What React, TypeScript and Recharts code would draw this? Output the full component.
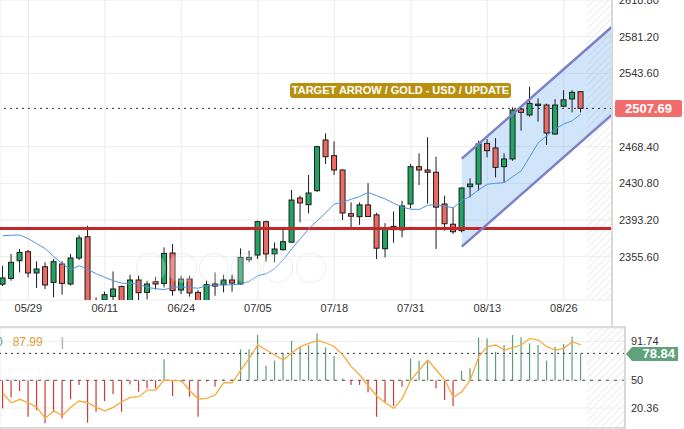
import React from "react";
import {
  ComposedChart,
  Bar,
  Line,
  Area,
  XAxis,
  YAxis,
  CartesianGrid,
  ReferenceLine,
  ReferenceArea,
} from "recharts";

// daily XAU/USD, 2024
const dates = [
  "05/24", "05/27", "05/28", "05/29", "05/30", "05/31",
  "06/03", "06/04", "06/05", "06/06", "06/07", "06/10", "06/11", "06/12", "06/13", "06/14",
  "06/17", "06/18", "06/19", "06/20", "06/21", "06/24", "06/25", "06/26", "06/27", "06/28",
  "07/01", "07/02", "07/03", "07/04", "07/05", "07/08", "07/09", "07/10", "07/11", "07/12",
  "07/15", "07/16", "07/17", "07/18", "07/19", "07/22", "07/23", "07/24", "07/25", "07/26",
  "07/29", "07/30", "07/31", "08/01", "08/02", "08/05", "08/06", "08/07", "08/08", "08/09",
  "08/12", "08/13", "08/14", "08/15", "08/16", "08/19", "08/20", "08/21", "08/22", "08/23",
  "08/26", "08/27", "08/28",
];

const opens = [
  2327.4, 2333.3, 2351.5, 2360.7, 2338.9, 2345.3, 2329.2, 2348.1, 2327.6, 2354.3,
  2376.1, 2293.5, 2311.2, 2314.9, 2325.1, 2303.5, 2331.7, 2319.0, 2330.0, 2328.2,
  2359.4, 2321.4, 2332.7, 2319.0, 2298.5, 2327.6, 2326.9, 2331.7, 2327.6, 2352.5,
  2357.3, 2391.5, 2358.4, 2362.8, 2370.5, 2415.8, 2408.9, 2423.3, 2475.3, 2459.2,
  2444.5, 2399.7, 2396.6, 2408.7, 2398.5, 2363.8, 2386.7, 2383.1, 2409.6, 2447.9,
  2444.5, 2442.2, 2409.6, 2388.9, 2382.3, 2427.4, 2430.1, 2471.8, 2467.1, 2447.9,
  2455.8, 2507.0, 2500.9, 2510.6, 2511.1, 2481.4, 2509.9, 2517.3, 2524.8,
];
const highs = [
  2346.4, 2358.4, 2363.5, 2362.5, 2350.8, 2349.8, 2353.2, 2350.8, 2358.4, 2377.8,
  2387.4, 2313.9, 2319.7, 2340.5, 2325.9, 2337.1, 2336.1, 2331.0, 2335.0, 2365.1,
  2368.6, 2336.1, 2336.1, 2321.4, 2331.0, 2339.5, 2337.1, 2337.1, 2364.1, 2361.8,
  2392.5, 2392.5, 2370.3, 2385.6, 2424.0, 2418.1, 2439.4, 2469.4, 2482.0, 2473.8,
  2445.0, 2411.3, 2411.3, 2431.0, 2400.7, 2390.0, 2402.0, 2413.0, 2450.6, 2461.5,
  2478.0, 2458.1, 2418.1, 2406.2, 2426.7, 2435.9, 2474.6, 2476.3, 2477.3, 2461.5,
  2508.7, 2508.1, 2529.9, 2517.9, 2512.5, 2517.1, 2526.3, 2526.3, 2525.3,
];
const lows = [
  2325.3, 2331.0, 2339.5, 2334.4, 2323.5, 2322.5, 2313.9, 2316.6, 2325.9, 2352.2,
  2286.0, 2286.5, 2298.0, 2305.0, 2300.0, 2300.5, 2310.0, 2312.0, 2322.0, 2324.1,
  2315.6, 2317.3, 2314.6, 2293.0, 2295.0, 2315.6, 2319.0, 2319.7, 2326.9, 2349.8,
  2353.2, 2350.5, 2349.8, 2361.8, 2370.3, 2390.8, 2400.0, 2422.0, 2450.6, 2439.4,
  2393.2, 2383.0, 2388.2, 2396.3, 2353.2, 2354.9, 2370.0, 2375.4, 2405.3, 2429.1,
  2410.0, 2363.5, 2382.3, 2378.9, 2380.5, 2416.4, 2423.3, 2457.4, 2436.9, 2431.8,
  2454.0, 2484.8, 2499.2, 2494.0, 2470.1, 2480.7, 2508.9, 2503.6, 2503.6,
];
const closes = [
  2333.8, 2349.8, 2360.0, 2338.9, 2343.0, 2326.6, 2350.5, 2328.2, 2354.3, 2374.8,
  2293.5, 2310.0, 2316.6, 2322.5, 2303.5, 2331.7, 2318.7, 2327.6, 2327.6, 2359.0,
  2320.8, 2332.7, 2318.4, 2298.5, 2326.9, 2325.5, 2331.7, 2328.6, 2354.9, 2354.9,
  2391.5, 2358.4, 2363.5, 2371.0, 2413.7, 2410.7, 2420.9, 2468.4, 2458.1, 2444.5,
  2400.4, 2397.1, 2408.7, 2396.8, 2364.3, 2383.8, 2383.3, 2407.6, 2447.9, 2444.5,
  2442.2, 2406.4, 2389.4, 2381.2, 2426.0, 2430.1, 2471.2, 2464.3, 2447.2, 2455.8,
  2506.0, 2503.6, 2512.8, 2512.0, 2482.4, 2511.1, 2516.4, 2524.1, 2507.69,
];
const movingAvg = [
  2377.1, 2377.6, 2377.8, 2374.0, 2368.9, 2363.8, 2355.6, 2348.4, 2342.3, 2346.4,
  2342.3, 2338.2, 2334.4, 2331.0, 2328.4, 2328.2, 2327.4, 2324.1, 2322.8, 2321.8,
  2324.3, 2324.8, 2323.8, 2323.3, 2325.9, 2326.6, 2326.7, 2326.9, 2327.6, 2330.5,
  2336.1, 2338.2, 2343.3, 2352.5, 2363.8, 2374.0, 2384.3, 2392.5, 2400.7, 2409.6,
  2411.3, 2414.5, 2417.4, 2421.5, 2418.1, 2414.8, 2410.4, 2406.4, 2404.3, 2404.1,
  2408.4, 2408.9, 2407.4, 2405.8, 2413.0, 2417.6, 2424.3, 2429.9, 2430.9, 2431.5,
  2437.6, 2443.8, 2458.1, 2472.5, 2479.7, 2486.5, 2491.7, 2495.0, 2501.9,
];

// oscillator pane
const oscValues = [
  20.0, 31.8, 38.5, 11.0, 18.2, 4.0, 15.8, 9.3, 29.7, 45.0,
  4.6, 16.4, 27.8, 35.3, 16.4, 45.7, 37.8, 41.4, 41.4, 72.5,
  33.2, 48.0, 32.5, 11.0, 48.5, 43.2, 51.0, 51.0, 83.2, 83.2,
  98.5, 65.6, 71.0, 79.5, 92.4, 86.0, 87.8, 100.3, 85.3, 76.0,
  52.0, 45.0, 45.0, 37.2, 11.0, 26.0, 22.5, 43.2, 73.5, 71.0,
  71.7, 41.4, 28.9, 22.5, 60.0, 62.8, 96.0, 95.0, 80.6, 87.8,
  98.5, 96.0, 89.6, 87.8, 71.0, 86.0, 88.8, 96.7, 78.84,
];
const signalValues = [
  36.1, 26.0, 29.7, 26.0, 21.1, 9.3, 17.4, 12.1, 21.1, 27.8,
  26.0, 21.1, 17.4, 21.1, 27.1, 31.8, 32.5, 39.6, 39.6, 50.3,
  49.6, 49.6, 38.9, 30.0, 30.7, 34.3, 47.4, 47.4, 61.0, 73.5,
  87.8, 82.4, 77.1, 71.7, 79.5, 86.0, 89.6, 92.4, 90.2, 86.0,
  77.1, 64.6, 55.7, 43.9, 33.2, 26.0, 20.0, 30.7, 50.3, 61.0,
  71.7, 61.0, 50.3, 31.8, 37.8, 50.3, 75.3, 86.0, 87.8, 82.4,
  84.9, 87.8, 94.9, 93.1, 86.0, 82.4, 84.2, 91.3, 87.99,
];

const dateTicks = [3, 12, 21, 30, 39, 48, 57, 66];
const priceTicks = [2355.6, 2393.2, 2430.8, 2468.4, 2543.6, 2581.2, 2618.8];
const oscTicks = [20.36, 50, 91.74];

// drawn objects
const channelX = [54, 71.67];
const channelUpper = [2456.1, 2591.4];
const channelLower = [2365.9, 2501.2];
const supportLevel = 2384.6;
const lastPrice = 2507.69;
const lastOsc = 78.84;
const lastSignal = 87.99;

const GREEN = "#22a563";
const RED = "#ef6a62";
const HIST_UP = "#5f9c78";
const HIST_DOWN = "#cf3a3a";

const priceRows = dates.map((_, i) => ({
  i,
  o: opens[i],
  h: highs[i],
  l: lows[i],
  c: closes[i],
  ma: movingAvg[i],
}));

const channelRows = channelX.map((x, k) => ({
  i: x,
  hi: channelUpper[k],
  lo: channelLower[k],
  band: [channelLower[k], channelUpper[k]],
}));

const oscRows = dates.map((_, i) => ({ i, hv: oscValues[i], sig: signalValues[i] }));

function Candle(props: any) {
  const { x, y, width, height, payload } = props;
  if (!payload || payload.o == null) return null;
  const { o, h, l, c } = payload;
  const top = Math.min(y, y + height);
  const span = Math.abs(height);
  const k = h === l ? 0 : span / (h - l);
  const cx = x + width / 2;
  const yO = top + (h - o) * k;
  const yC = top + (h - c) * k;
  const bTop = Math.min(yO, yC);
  const bH = Math.max(Math.abs(yO - yC), 1);
  return (
    <g>
      <line x1={cx} x2={cx} y1={top} y2={top + span} stroke="#1c1c1c" strokeWidth={1} />
      <rect
        x={cx - 2.5}
        y={bTop}
        width={5}
        height={bH}
        fill={c >= o ? GREEN : RED}
        stroke="#1c1c1c"
        strokeWidth={1}
      />
    </g>
  );
}

function HistBar(props: any) {
  const { x, y, width, height, payload } = props;
  if (!payload || payload.hv == null) return null;
  const cx = x + width / 2;
  return (
    <rect
      x={cx - 0.6}
      y={Math.min(y, y + height)}
      width={1.2}
      height={Math.abs(height)}
      fill={payload.hv >= 50 ? HIST_UP : HIST_DOWN}
    />
  );
}

const tickStyle = { fontSize: 11, fill: "#333", fontFamily: "Liberation Sans, Arial, sans-serif" };
const navCenters = [151, 182, 214, 246, 278, 311];

export default function App() {
  return (
    <div
      style={{
        position: "absolute",
        left: 0,
        top: 0,
        width: 684,
        height: 429,
        overflow: "hidden",
        background: "#fff",
        fontFamily: "Liberation Sans, Arial, sans-serif",
      }}
    >
      <svg width={0} height={0} style={{ position: "absolute" }}>
        <defs>
          <pattern id="hatch" width="5" height="5" patternUnits="userSpaceOnUse" patternTransform="rotate(45)">
            <line x1="0" y1="0" x2="0" y2="5" stroke="#ebebeb" strokeWidth="2" />
          </pattern>
        </defs>
      </svg>

      {/* price pane */}
      <div style={{ position: "absolute", left: 0, top: 0 }}>
        <ComposedChart width={684} height={320} data={priceRows} margin={{ top: 0, right: 0, bottom: 0, left: 0 }}>
          <CartesianGrid stroke="#ececec" />
          <XAxis
            dataKey="i"
            type="number"
            domain={[-0.33, 71.67]}
            allowDataOverflow
            ticks={dateTicks}
            interval={0}
            tickFormatter={(v: number) => dates[v]}
            height={20}
            tickSize={0}
            tickMargin={4}
            axisLine={false}
            tickLine={false}
            tick={tickStyle}
          />
          <YAxis
            orientation="right"
            width={72}
            domain={[2311.2, 2618.8]}
            allowDataOverflow
            ticks={priceTicks}
            interval={0}
            axisLine={false}
            tickLine={false}
            tickMargin={1}
            tickFormatter={(v: number) => v.toFixed(2)}
            tick={tickStyle}
          />
          <ReferenceArea x1={68.7} x2={71.67} fill="url(#hatch)" fillOpacity={1} stroke="none" />
          <ReferenceLine y={supportLevel} stroke="#c4262b" strokeWidth={3} />
          <Bar
            dataKey={(r: any) => (r.h == null ? null : [r.l, r.h])}
            barSize={6}
            shape={(p: any) => <Candle {...p} />}
            isAnimationActive={false}
          />
          <Area
            data={channelRows}
            dataKey="band"
            type="linear"
            fill="#64aaf0"
            fillOpacity={0.3}
            stroke="none"
            dot={false}
            activeDot={false}
            isAnimationActive={false}
          />
          <Line data={channelRows} dataKey="hi" type="linear" stroke="#7c80c6" strokeWidth={2.5} dot={false} activeDot={false} isAnimationActive={false} />
          <Line data={channelRows} dataKey="lo" type="linear" stroke="#7c80c6" strokeWidth={2.5} dot={false} activeDot={false} isAnimationActive={false} />
          <Line dataKey="ma" type="linear" stroke="#4f93e0" strokeWidth={1} dot={false} activeDot={false} isAnimationActive={false} />
          <ReferenceLine y={lastPrice} stroke="#333" strokeDasharray="2 4" strokeWidth={1} />
        </ComposedChart>
      </div>

      {/* oscillator pane */}
      <div style={{ position: "absolute", left: 0, top: 328 }}>
        <ComposedChart width={684} height={100} data={oscRows} margin={{ top: 0, right: 0, bottom: 0, left: 0 }}>
          <CartesianGrid stroke="#ececec" />
          <XAxis
            dataKey="i"
            type="number"
            domain={[-0.33, 73.2]}
            allowDataOverflow
            ticks={dateTicks}
            interval={0}
            height={0}
            tick={false}
            axisLine={false}
            tickLine={false}
          />
          <YAxis
            orientation="right"
            width={59}
            domain={[-1.04, 106]}
            allowDataOverflow
            ticks={oscTicks}
            interval={0}
            axisLine={false}
            tickLine={false}
            tickMargin={0}
            tick={tickStyle}
          />
          <ReferenceArea x1={68.7} x2={73.2} fill="url(#hatch)" fillOpacity={1} stroke="none" />
          <ReferenceLine y={50} stroke="#555" strokeDasharray="3 5" strokeWidth={1} />
          <ReferenceLine y={lastOsc} stroke="#333" strokeDasharray="2 4" strokeWidth={1} />
          <Bar
            dataKey={(r: any) => [Math.min(50, r.hv), Math.max(50, r.hv)]}
            barSize={2}
            shape={(p: any) => <HistBar {...p} />}
            isAnimationActive={false}
          />
          <Line dataKey="sig" type="linear" stroke="#f6ab3c" strokeWidth={1.3} dot={false} activeDot={false} isAnimationActive={false} />
        </ComposedChart>
      </div>

      {/* pane borders */}
      <div style={{ position: "absolute", left: 611, top: 0, width: 2, height: 327, background: "#d8d8d8" }} />
      <div style={{ position: "absolute", left: 0, top: 326, width: 626, height: 2, background: "#dcdcdc" }} />
      <div style={{ position: "absolute", left: 624, top: 327, width: 2, height: 102, background: "#d8d8d8" }} />
      <div style={{ position: "absolute", left: 0, top: 427, width: 626, height: 2, background: "#dcdcdc" }} />

      {/* navigation buttons */}
      {navCenters.map((cx) => (
        <div
          key={cx}
          style={{
            position: "absolute",
            left: cx - 15,
            top: 253,
            width: 30,
            height: 30,
            borderRadius: 15,
            border: "1px solid rgba(0,0,0,0.07)",
            background: "rgba(255,255,255,0.25)",
            boxSizing: "border-box",
          }}
        />
      ))}

      {/* annotation */}
      <div
        style={{
          position: "absolute",
          left: 290,
          top: 83,
          width: 221,
          height: 15,
          background: "#b8900d",
          borderRadius: 3,
          color: "#fff",
          fontWeight: 700,
          fontSize: 11,
          lineHeight: "15px",
          textAlign: "center",
          whiteSpace: "nowrap",
        }}
      >
        TARGET ARROW / GOLD - USD / UPDATE
      </div>

      {/* last price */}
      <div
        style={{
          position: "absolute",
          left: 615,
          top: 100,
          width: 67,
          height: 17,
          background: "#f26c6c",
          borderRadius: 2,
          color: "#fff",
          fontWeight: 700,
          fontSize: 13,
          lineHeight: "17px",
          textAlign: "center",
        }}
      >
        {lastPrice.toFixed(2)}
      </div>

      {/* last oscillator value */}
      <div
        style={{
          position: "absolute",
          left: 626,
          top: 347,
          width: 52,
          height: 14,
          background: "#60a27c",
          clipPath: "polygon(0 50%, 6px 0, 100% 0, 100% 100%, 6px 100%)",
          color: "#fff",
          fontWeight: 700,
          fontSize: 13,
          lineHeight: "14px",
          textAlign: "right",
          paddingRight: 3,
          boxSizing: "border-box",
        }}
      >
        {lastOsc.toFixed(2)}
      </div>

      {/* oscillator legend */}
      <div style={{ position: "absolute", left: -4, top: 335, fontSize: 12, lineHeight: "14px", whiteSpace: "nowrap" }}>
        <span style={{ color: "#5f9c78" }}>0</span>
        <span style={{ color: "#e39a35", marginLeft: 10 }}>{lastSignal.toFixed(2)}</span>
        <span style={{ color: "#999", marginLeft: 18 }}>|</span>
      </div>
    </div>
  );
}
